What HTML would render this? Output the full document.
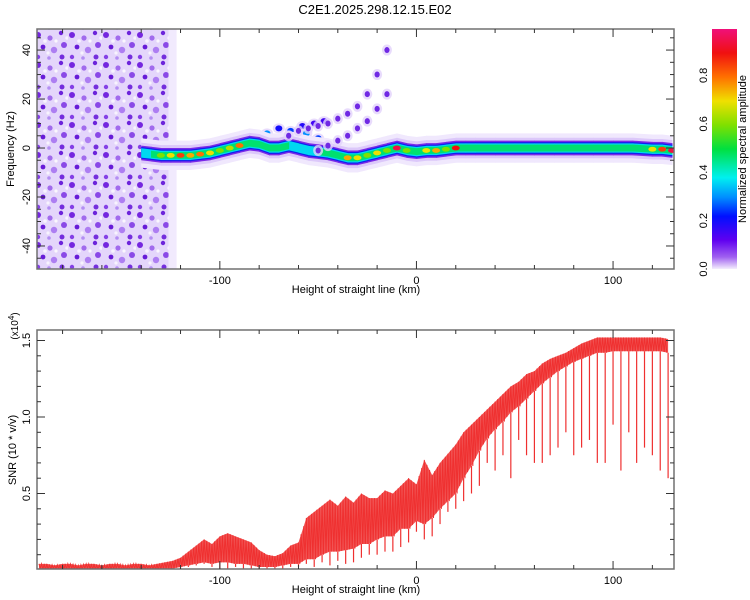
<!DOCTYPE html>
<html><head><meta charset="utf-8"><style>
html,body{margin:0;padding:0;background:#fff;}
svg{display:block;font-family:"Liberation Sans",sans-serif;}
</style></head><body>
<svg id="chart" width="750" height="600" viewBox="0 0 750 600" xmlns="http://www.w3.org/2000/svg">
<defs>
<pattern id="noise" width="34" height="30" patternUnits="userSpaceOnUse">
<rect width="34" height="30" fill="#e4d6fb"/>
<circle cx="4" cy="5" r="3" fill="#6a14dc" opacity="0.9"/>
<circle cx="16" cy="8" r="2.6" fill="#9050ea" opacity="0.8"/>
<circle cx="27" cy="3" r="2.2" fill="#6010d8" opacity="0.9"/>
<circle cx="30" cy="15" r="3" fill="#7a30e4" opacity="0.85"/>
<circle cx="9" cy="17" r="2.4" fill="#5a08d4" opacity="0.9"/>
<circle cx="20" cy="20" r="3.2" fill="#9a60ee" opacity="0.75"/>
<circle cx="4" cy="27" r="2.2" fill="#7a30e4" opacity="0.9"/>
<circle cx="28" cy="27" r="2.5" fill="#6010d8" opacity="0.85"/>
<circle cx="15" cy="28" r="1.8" fill="#b088f2" opacity="0.9"/>
<circle cx="22" cy="11" r="1.6" fill="#fff" opacity="0.8"/>
<circle cx="11" cy="11" r="1.8" fill="#fff" opacity="0.7"/>
<circle cx="33" cy="8" r="1.7" fill="#fff" opacity="0.7"/>
<circle cx="14" cy="23" r="1.6" fill="#fff" opacity="0.7"/>
</pattern>
<linearGradient id="cbar" x1="0" y1="1" x2="0" y2="0">
<stop offset="0" stop-color="#f4eefd"/>
<stop offset="0.05" stop-color="#a060f0"/>
<stop offset="0.12" stop-color="#6000f0"/>
<stop offset="0.22" stop-color="#0010ff"/>
<stop offset="0.3" stop-color="#0090ff"/>
<stop offset="0.38" stop-color="#00f0f0"/>
<stop offset="0.5" stop-color="#00e040"/>
<stop offset="0.6" stop-color="#80e000"/>
<stop offset="0.7" stop-color="#f0e000"/>
<stop offset="0.8" stop-color="#ff7000"/>
<stop offset="0.9" stop-color="#f01010"/>
<stop offset="1" stop-color="#f0107a"/>
</linearGradient>
<clipPath id="clipTop"><rect x="37" y="29" width="637" height="240"/></clipPath>
<clipPath id="clipBot"><rect x="37" y="330" width="637" height="239"/></clipPath>
</defs>
<text x="375" y="14" text-anchor="middle" font-size="13">C2E1.2025.298.12.15.E02</text>
<g id="topPanel"></g>
<g id="botPanel"></g>
<g id="cbPanel">
<rect x="712" y="29" width="25" height="240" fill="url(#cbar)"/>
</g>
</svg>
<script>
// ---- data ----
const ridgeKm   = [-140,-135,-130,-125,-120,-115,-110,-105,-100,-95,-90,-85,-80,-75,-70,-65,-60,-55,-50,-45,-40,-35,-30,-25,-20,-15,-10,-5,0,5,10,15,20,25,30,40,50,60,70,80,90,100,110,120,125,130];
const ridgeHz   = [-2,-2.5,-3,-3,-3,-3,-2.5,-2,-1,0,1,2,1.5,0,0,1,0,-1,-1.5,-2,-3,-4,-4,-3,-2,-1,0,-1,-1.5,-1,-1,-0.5,0,0,0,0,0,0,0,0,0,0,0,-0.5,-0.5,-1];
const ridgeAmp  = [0.3,0.5,0.6,0.7,0.85,0.75,0.8,0.7,0.6,0.65,0.8,0.55,0.45,0.4,0.45,0.4,0.35,0.3,0.4,0.45,0.55,0.75,0.7,0.6,0.7,0.6,0.95,0.6,0.55,0.7,0.75,0.6,0.9,0.5,0.5,0.5,0.5,0.5,0.45,0.45,0.55,0.5,0.55,0.7,0.85,0.95];
const clusterKm  = [-88,-84,-80,-76,-74,-70,-68,-64,-62,-58,-56,-52,-50,-47,-72,-66,-60,-54];
const clusterHz  = [3,4,5,6,3,8,4,7,5,9,6,10,4,11,1,2,2,3];
const clusterAmp = [0.25,0.3,0.2,0.3,0.35,0.2,0.3,0.25,0.32,0.18,0.3,0.15,0.25,0.15,0.4,0.35,0.3,0.25];
const branchAKm = [-65,-60,-55,-50,-45,-40,-35,-30,-25,-20,-15];
const branchAHz = [5,7,8,9,10,12,14,17,22,30,40];
const branchBKm = [-50,-45,-40,-35,-30,-25,-20,-15];
const branchBHz = [-1,1,3,5,8,11,16,22];
const snrKm    = [-192,-188,-184,-180,-176,-172,-168,-164,-160,-156,-152,-148,-144,-140,-136,-132,-128,-124,-120,-116,-112,-108,-104,-100,-96,-92,-88,-84,-80,-76,-72,-68,-64,-60,-56,-52,-48,-44,-40,-36,-32,-28,-24,-20,-16,-12,-8,-4,0,4,8,12,16,20,24,28,32,36,40,44,48,52,56,60,64,68,72,76,80,84,88,92,96,100,104,108,112,116,120,124,128];
const snrTop   = [0.04,0.04,0.03,0.04,0.04,0.03,0.04,0.04,0.03,0.04,0.04,0.03,0.04,0.04,0.03,0.04,0.05,0.06,0.08,0.12,0.16,0.2,0.17,0.22,0.24,0.22,0.2,0.18,0.13,0.1,0.09,0.11,0.16,0.18,0.34,0.38,0.42,0.46,0.42,0.48,0.44,0.5,0.47,0.47,0.52,0.5,0.55,0.6,0.56,0.72,0.62,0.7,0.76,0.82,0.9,0.95,1.0,1.05,1.1,1.15,1.2,1.23,1.28,1.3,1.35,1.38,1.4,1.42,1.45,1.48,1.5,1.52,1.52,1.52,1.52,1.52,1.52,1.52,1.52,1.52,1.51];
const snrBody  = [0.01,0.0,0.01,0.0,0.01,0.0,0.01,0.0,0.01,0.0,0.01,0.0,0.01,0.0,0.01,0.0,0.01,0.01,0.02,0.03,0.04,0.05,0.04,0.05,0.05,0.04,0.04,0.03,0.02,0.02,0.02,0.03,0.04,0.04,0.07,0.07,0.1,0.12,0.12,0.13,0.14,0.17,0.17,0.2,0.22,0.22,0.27,0.27,0.32,0.3,0.34,0.4,0.45,0.5,0.6,0.68,0.78,0.86,0.92,0.97,1.03,1.07,1.12,1.17,1.22,1.26,1.3,1.33,1.36,1.38,1.4,1.42,1.42,1.43,1.43,1.43,1.43,1.43,1.43,1.43,1.42];
const snrSpike = [0.0,0.0,0.0,0.0,0.0,0.0,0.0,0.0,0.0,0.0,0.0,0.0,0.0,0.0,0.0,0.0,0.0,0.0,0.01,0.02,0.03,0.04,0.02,0.0,0.0,0.02,0.01,0.0,0.0,0.01,0.0,0.01,0.02,0.02,0.04,0.02,0.05,0.03,0.06,0.04,0.05,0.08,0.1,0.1,0.12,0.12,0.15,0.18,0.25,0.2,0.22,0.3,0.38,0.4,0.45,0.5,0.55,0.7,0.65,0.75,0.6,0.85,0.75,0.7,0.7,0.75,0.8,0.9,0.75,0.8,0.85,0.7,0.7,0.95,0.65,0.9,0.7,0.8,0.75,0.65,0.6];
const xTicks = [-100,0,100];
const freqTicks = [40,20,0,-20,-40];
const snrTicks = [0.5,1.0,1.5];
const cbTicks = [0.0,0.2,0.4,0.6,0.8];

// ---- axes ----
const X0=37,X1=674,KM0=-193,KM1=131;
const xs = k => X0+(k-KM0)/(KM1-KM0)*(X1-X0);
const TY0=29,TY1=269,F0=-49.4,F1=48.6;
const fy = f => TY1-(f-F0)/(F1-F0)*(TY1-TY0);
const BY0=330,BY1=569;
const sy = v => 570-v*153;
const cy = v => 269-v*242;
const NS="http://www.w3.org/2000/svg";
function mk(tag,attrs,parent){const e=document.createElementNS(NS,tag);for(const k in attrs)e.setAttribute(k,attrs[k]);parent.appendChild(e);return e;}
const topG=document.getElementById('topPanel'), botG=document.getElementById('botPanel'), cbG=document.getElementById('cbPanel');

function cmap(a){
  const st=[[0,[244,238,253]],[0.05,[160,96,240]],[0.12,[96,0,240]],[0.22,[0,16,255]],[0.3,[0,144,255]],[0.38,[0,240,240]],[0.5,[0,224,64]],[0.6,[128,224,0]],[0.7,[240,224,0]],[0.8,[255,112,0]],[0.9,[240,16,16]],[1,[240,16,122]]];
  for(let i=1;i<st.length;i++){if(a<=st[i][0]){const t=(a-st[i-1][0])/(st[i][0]-st[i-1][0]);const c=st[i-1][1].map((v,j)=>Math.round(v+(st[i][1][j]-v)*t));return `rgb(${c})`;}}
  return 'rgb(240,16,122)';
}

// ---- top panel ----
const gTop=mk('g',{'clip-path':'url(#clipTop)'},topG);
const noise=mk('rect',{x:X0,y:TY0,width:xs(-126)-X0,height:TY1-TY0,fill:'url(#noise)'},gTop);


const noise2=mk('rect',{x:xs(-126),y:TY0,width:xs(-122)-xs(-126),height:TY1-TY0,fill:'#f1eafd'},gTop);



const gC=mk('g',{},gTop);


for(let i=0;i<clusterKm.length;i++){
  const h=mk('ellipse',{cx:xs(clusterKm[i]),cy:fy(clusterHz[i]),rx:6,ry:5,fill:'#e2d2fb',opacity:0.8},gC);
  
  
}
for(let i=0;i<clusterKm.length;i++){
  const c=mk('ellipse',{cx:xs(clusterKm[i]),cy:fy(clusterHz[i]),rx:3.5,ry:3,fill:cmap(clusterAmp[i])},gC);
  
  
}

// [half-width Hz, min amplitude, colour]
const layers=[[6,0.0,'#f0e8fd'],[4.2,0.0,'#dcc8fa'],[3.0,0.0,'#7a28e8'],[2.4,0.2,'#1020f0'],[1.9,0.3,'#00d8f0'],[1.4,0.4,'#00e070']];
const gR=mk('g',{},gTop);


for(let L=0;L<layers.length;L++){
  const [hw,lev,col]=layers[L];
  for(let i=0;i<ridgeKm.length-1;i++){
    const a=Math.min(ridgeAmp[i],ridgeAmp[i+1]);
    if(a<lev) continue;
    const x0=xs(ridgeKm[i]),x1=xs(ridgeKm[i+1])+0.5;
    const p=`${x0},${fy(ridgeHz[i]+hw)} ${x1},${fy(ridgeHz[i+1]+hw)} ${x1},${fy(ridgeHz[i+1]-hw)} ${x0},${fy(ridgeHz[i]-hw)}`;
    const pg=mk('polygon',{points:p,fill:col},gR);
    
    
  }
}
for(let i=0;i<ridgeKm.length;i++){
  if(ridgeAmp[i]<0.6) continue;
  const hs=mk('ellipse',{cx:xs(ridgeKm[i]),cy:fy(ridgeHz[i]),rx:4,ry:2.4,fill:cmap(ridgeAmp[i])},gR);
  
  
}
function branch(kms,hzs,name){
  const g=mk('g',{},gTop);
  
  
  for(let i=0;i<kms.length;i++){
    const c1=mk('ellipse',{cx:xs(kms[i]),cy:fy(hzs[i]),rx:5,ry:5.5,fill:'#e2d2fb',opacity:0.8},g);
    
    
    const c2=mk('ellipse',{cx:xs(kms[i]),cy:fy(hzs[i]),rx:2.6,ry:3,fill:'#7028e4'},g);
    
    
  }
}
branch(branchAKm,branchAHz,'upper-branch-a');
branch(branchBKm,branchBHz,'upper-branch-b');

function frame(parent,y0,y1,name){
  const r=mk('rect',{x:X0,y:y0,width:X1-X0,height:y1-y0,fill:'none',stroke:'#707070','stroke-width':1.5},parent);
  
  
  for(let k=-180;k<=120;k+=20){
    const x=xs(k), len=(k%100===0)?8:4;
    mk('line',{x1:x,y1:y1,x2:x,y2:y1-len,stroke:'#333'},parent);
    mk('line',{x1:x,y1:y0,x2:x,y2:y0+len,stroke:'#333'},parent);
  }
  xTicks.forEach(k=>{
    const t=mk('text',{x:xs(k),y:y1+15,'text-anchor':'middle','font-size':11},parent);
    t.textContent=k;
    
    
  });
  const xt=mk('text',{x:356,y:y1+24,'text-anchor':'middle','font-size':11},parent);
  xt.textContent='Height of straight line (km)';
  
  
}
frame(topG,TY0,TY1,'spectrogram-frame');
for(let f=-45;f<=45;f+=5){
  const y=fy(f),len=(f%20===0)?8:4;
  mk('line',{x1:X0,y1:y,x2:X0+len,y2:y,stroke:'#333'},topG);
  mk('line',{x1:X1,y1:y,x2:X1-len,y2:y,stroke:'#333'},topG);
}
freqTicks.forEach(f=>{
  const t=mk('text',{x:0,y:0,'text-anchor':'middle','font-size':11,transform:`translate(30,${fy(f)}) rotate(-90)`},topG);
  t.textContent=f;
  
  
});
const yt=mk('text',{x:0,y:0,'text-anchor':'middle','font-size':11,transform:`translate(14,149) rotate(-90)`},topG);
yt.textContent='Frequency (Hz)';



// ---- bottom panel ----
const gB=mk('g',{'clip-path':'url(#clipBot)'},botG);
let band='';
for(let i=0;i<snrKm.length;i++) band+=`${xs(snrKm[i])},${sy(snrTop[i])} `;
for(let i=snrKm.length-1;i>=0;i--) band+=`${xs(snrKm[i])},${sy(snrBody[i])} `;
const bp=mk('polygon',{points:band,fill:'#ef3535',opacity:0.85},gB);


let zz='';
for(let i=0;i<snrKm.length-1;i++){
  const x0=xs(snrKm[i]),x1=xs(snrKm[i+1]);
  const t0=snrTop[i],t1=snrTop[i+1],b0=snrBody[i],b1=snrBody[i+1];
  zz+=`${x0},${sy(t0)} ${x0+(x1-x0)*0.17},${sy(b0)} ${x0+(x1-x0)*0.33},${sy((t0*2+t1)/3)} ${x0+(x1-x0)*0.5},${sy((b0+b1)/2)} ${x0+(x1-x0)*0.67},${sy((t0+t1*2)/3)} ${x0+(x1-x0)*0.83},${sy(b1)} `;
}
const zl=mk('polyline',{points:zz,fill:'none',stroke:'#ef3030','stroke-width':1},gB);


for(let i=0;i<snrKm.length;i++){
  if(snrSpike[i]>=snrBody[i]) continue;
  const ln=mk('line',{x1:xs(snrKm[i]),y1:sy(snrBody[i]),x2:xs(snrKm[i]),y2:sy(snrSpike[i]),stroke:'#ef3030','stroke-width':1.2},gB);
  
  
}
frame(botG,BY0,BY1,'snr-frame');
for(let v=0.1;v<1.6;v+=0.1){
  const y=sy(v),len=(Math.abs(v*2-Math.round(v*2))<1e-6)?8:4;
  mk('line',{x1:X0,y1:y,x2:X0+len,y2:y,stroke:'#333'},botG);
  mk('line',{x1:X1,y1:y,x2:X1-len,y2:y,stroke:'#333'},botG);
}
snrTicks.forEach(v=>{
  const t=mk('text',{x:0,y:0,'text-anchor':'middle','font-size':11,transform:`translate(30,${sy(v)}) rotate(-90)`},botG);
  t.textContent=v.toFixed(1);
  
  
});
const bt=mk('text',{x:0,y:0,'text-anchor':'middle','font-size':11,transform:`translate(16,450) rotate(-90)`},botG);
bt.textContent='SNR (10 * v/v)';


const sc=mk('text',{x:0,y:0,'text-anchor':'middle','font-size':10,transform:`translate(18,326) rotate(-90)`},botG);
sc.innerHTML='(x10<tspan dy="-4" font-size="8">4</tspan><tspan dy="4">)</tspan>';



// ---- colorbar ----
cbTicks.forEach(v=>{
  const t=mk('text',{x:0,y:0,'text-anchor':'middle','font-size':11,transform:`translate(707,${cy(v)}) rotate(-90)`},cbG);
  t.textContent=v.toFixed(1);
  
  
});
const ct=mk('text',{x:0,y:0,'text-anchor':'middle','font-size':11,transform:`translate(746,149) rotate(-90)`},cbG);
ct.textContent='Normalized spectral amplitude';


</script>
</body></html>
